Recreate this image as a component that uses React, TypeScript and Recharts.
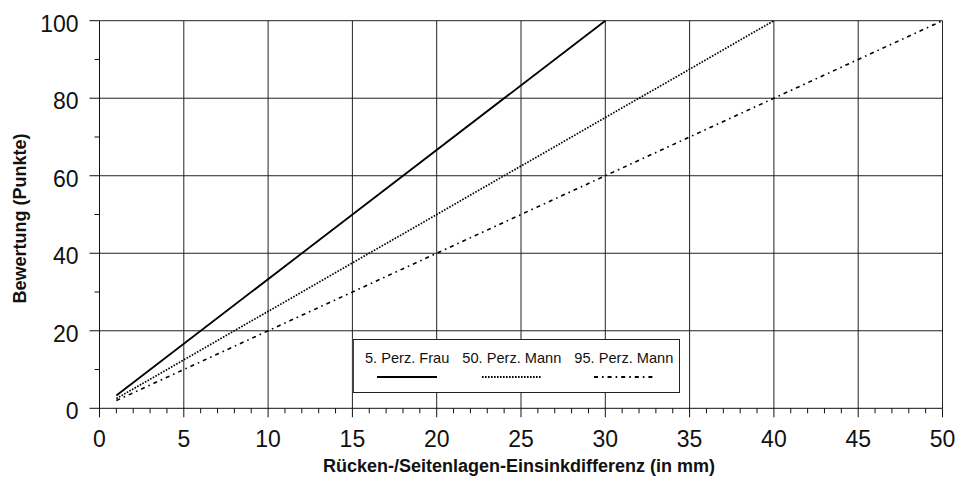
import { LineChart, Line, XAxis, YAxis, ReferenceLine, Label } from "recharts";

// each group is a straight line from x=1 up to 100 points
const frauX = [1, 30];
const frauY = [3.3, 100];
const mann50X = [1, 40];
const mann50Y = [2.5, 100];
const mann95X = [1, 50];
const mann95Y = [2, 100];

const xMajor = [0, 5, 10, 15, 20, 25, 30, 35, 40, 45, 50];
const xAllTicks = [0, 1, 2, 3, 4, 5, 6, 7, 8, 9, 10, 11, 12, 13, 14, 15, 16, 17, 18, 19, 20, 21, 22, 23, 24, 25, 26, 27, 28, 29, 30, 31, 32, 33, 34, 35, 36, 37, 38, 39, 40, 41, 42, 43, 44, 45, 46, 47, 48, 49, 50];
const yMajor = [0, 20, 40, 60, 80, 100];
const yAllTicks = [0, 10, 20, 30, 40, 50, 60, 70, 80, 90, 100];

const FONT = '"Liberation Sans", Arial, Helvetica, sans-serif';

const toPoints = (xs: number[], ys: number[]) => xs.map((x, i) => ({ x, y: ys[i] }));

const series = [
  { name: "5. Perz. Frau", data: toPoints(frauX, frauY), dash: undefined, width: 1.8 },
  { name: "50. Perz. Mann", data: toPoints(mann50X, mann50Y), dash: "1.6 1.4", width: 1.7 },
  { name: "95. Perz. Mann", data: toPoints(mann95X, mann95Y), dash: "4 4 1.6 4", width: 1.6 },
];

function XTick(props: any) {
  const { x, y, payload } = props;
  const major = payload.value % 5 === 0;
  return (
    <g>
      <line x1={x} y1={y} x2={x} y2={y + (major ? 9 : 5)} stroke="#111" strokeWidth={1} />
      {major && (
        <text x={x} y={y + 39} textAnchor="middle" fontSize={23} fontFamily={FONT} fill="#111">
          {payload.value}
        </text>
      )}
    </g>
  );
}

function YTick(props: any) {
  const { x, y, payload } = props;
  const major = payload.value % 20 === 0;
  return (
    <g>
      <line x1={x} y1={y} x2={x - (major ? 10 : 5)} y2={y} stroke="#111" strokeWidth={1} />
      {major && (
        <text x={x - 21} y={y + 11} textAnchor="end" fontSize={23} fontFamily={FONT} fill="#111">
          {payload.value}
        </text>
      )}
    </g>
  );
}

export default function App() {
  return (
    <div style={{ position: "absolute", left: 0, top: 0, width: 963, height: 481, background: "#fff" }}>
      <LineChart width={963} height={481} margin={{ top: 20.7, right: 20.5, left: 39.5, bottom: 0 }}>
        <XAxis
          type="number"
          dataKey="x"
          domain={[0, 50]}
          ticks={xAllTicks}
          interval={0}
          height={72.7}
          tickSize={0}
          tickMargin={0}
          tickLine={false}
          tick={<XTick />}
          axisLine={{ stroke: "#111", strokeWidth: 1 }}
          allowDuplicatedCategory={false}
        >
          <Label
            content={({ viewBox }: any) => (
              <text
                x={viewBox.x + viewBox.width / 2 - 2}
                y={472}
                textAnchor="middle"
                fontSize={18}
                fontWeight="bold"
                fontFamily={FONT}
                fill="#111"
              >
                Rücken-/Seitenlagen-Einsinkdifferenz (in mm)
              </text>
            )}
          />
        </XAxis>
        <YAxis
          type="number"
          domain={[0, 100]}
          ticks={yAllTicks}
          interval={0}
          width={60}
          tickSize={0}
          tickMargin={0}
          tickLine={false}
          tick={<YTick />}
          axisLine={{ stroke: "#111", strokeWidth: 1 }}
        >
          <Label
            content={({ viewBox }: any) => {
              const cy = viewBox.y + viewBox.height / 2 + 4;
              return (
                <text
                  x={25.5}
                  y={cy}
                  transform={`rotate(-90, 25.5, ${cy})`}
                  textAnchor="middle"
                  fontSize={18}
                  fontWeight="bold"
                  fontFamily={FONT}
                  fill="#111"
                >
                  Bewertung (Punkte)
                </text>
              );
            }}
          />
        </YAxis>
        {xMajor.filter(v => v > 0).map(v => (
          <ReferenceLine key={`vx${v}`} x={v} stroke="#222" strokeWidth={1} />
        ))}
        {yMajor.filter(v => v > 0).map(v => (
          <ReferenceLine key={`hy${v}`} y={v} stroke="#222" strokeWidth={1} />
        ))}
        {series.map(s => (
          <Line
            key={s.name}
            name={s.name}
            data={s.data}
            dataKey="y"
            type="linear"
            stroke="#000"
            strokeWidth={s.width}
            strokeDasharray={s.dash}
            dot={false}
            activeDot={false}
            isAnimationActive={false}
          />
        ))}
      </LineChart>
      <div
        style={{
          position: "absolute",
          left: 352,
          top: 339,
          width: 328,
          height: 54,
          boxSizing: "border-box",
          border: "1px solid #222",
          borderLeft: "2px solid #444",
          background: "#fff",
          display: "flex",
          paddingLeft: 11,
          paddingTop: 10,
          gap: 13,
          fontFamily: FONT,
          fontSize: 14.6,
          color: "#111",
        }}
      >
        {series.map(s => (
          <div key={s.name} style={{ display: "flex", flexDirection: "column", alignItems: "center" }}>
            <span style={{ lineHeight: "16px", whiteSpace: "nowrap" }}>{s.name}</span>
            <svg width={60} height={14} style={{ marginTop: 4 }}>
              <line x1={0} y1={7} x2={60} y2={7} stroke="#000" strokeWidth={2} strokeDasharray={s.dash} />
            </svg>
          </div>
        ))}
      </div>
    </div>
  );
}
